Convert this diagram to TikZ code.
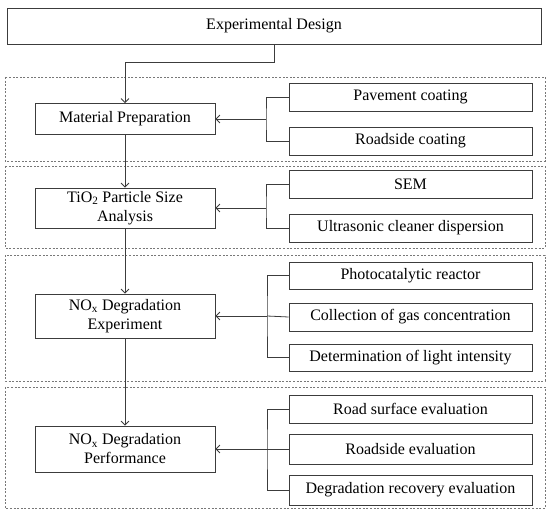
\documentclass[tikz,border=0pt]{standalone}
\usepackage{fontspec}
\setmainfont{Liberation Serif}
\usepackage{tikz}
\usetikzlibrary{arrows,arrows.meta,positioning,calc}
\definecolor{framegray}{RGB}{120,120,120}
\definecolor{linegray}{RGB}{60,60,60}

\begin{document}
\begin{tikzpicture}[x=1pt, y=-1pt,
    font=\fontsize{16}{19}\selectfont,
    >={Straight Barb[length=4pt,width=8pt]},
    mainbox/.style={draw=linegray, line width=0.8pt, fill=white, minimum width=180pt, align=center, inner sep=2pt},
    subbox/.style={draw=linegray, line width=0.8pt, fill=white, minimum width=243pt, minimum height=28pt, inner sep=2pt},
    frame/.style={draw=framegray, line width=0.7pt, dash pattern=on 2pt off 1.6pt},
    link/.style={draw=linegray, line width=0.8pt}]
    \useasboundingbox (0,0) rectangle (550,513);

    % Dashed stage frames
    \draw[frame] (5,77) rectangle (545,161);
    \draw[frame] (5,166) rectangle (545,248);
    \draw[frame] (5,255) rectangle (545,381);
    \draw[frame] (5,387) rectangle (545,508);

    % Top box
    \node[mainbox, minimum width=534pt, minimum height=36pt] (design) at (274,26) {Experimental Design};

    % Main stages (left column)
    \node[mainbox, minimum height=31pt] (prep) at (125,119) {Material Preparation};
    \node[mainbox, minimum height=40pt] (tio) at (125,208) {TiO\textsubscript{2} Particle Size\\Analysis};
    \node[mainbox, minimum height=44pt] (noxexp) at (125,316) {NO\textsubscript{x} Degradation\\Experiment};
    \node[mainbox, minimum height=46pt] (noxperf) at (125,449) {NO\textsubscript{x} Degradation\\Performance};

    % Sub items (right column)
    \node[subbox] (pave) at (410.5,97) {Pavement coating};
    \node[subbox] (rcoat) at (410.5,141) {Roadside coating};
    \node[subbox] (sem) at (410.5,184) {SEM};
    \node[subbox] (ultra) at (410.5,228) {Ultrasonic cleaner dispersion};
    \node[subbox, minimum height=27pt] (photo) at (410.5,275.5) {Photocatalytic reactor};
    \node[subbox] (gas) at (410.5,317) {Collection of gas concentration};
    \node[subbox, minimum height=27pt] (light) at (410.5,357.5) {Determination of light intensity};
    \node[subbox] (surf) at (410.5,409) {Road surface evaluation};
    \node[subbox, minimum height=30pt] (rside) at (410.5,449) {Roadside evaluation};
    \node[subbox, minimum height=30pt] (recov) at (410.5,490) {Degradation recovery evaluation};

    % Main flow
    \draw[link, ->] (design.south) -- ++(0,18) -| (prep.north);
    \draw[link, ->] (prep.south) -- (tio.north);
    \draw[link, ->] (tio.south) -- (noxexp.north);
    \draw[link, ->] (noxexp.south) -- (noxperf.north);

    % Brackets into each stage
    \coordinate (b1) at (266,119);
    \draw[link] (pave.west) -| (b1) |- (rcoat.west);
    \draw[link, ->] (b1) -- (prep.east);

    \coordinate (b2) at (266,208);
    \draw[link] (sem.west) -| (b2) |- (ultra.west);
    \draw[link, ->] (b2) -- (tio.east);

    \coordinate (b3) at (267,316);
    \draw[link] (photo.west) -| (b3) |- (light.west);
    \draw[link] (gas.west) -- (b3);
    \draw[link, ->] (b3) -- (noxexp.east);

    \coordinate (b4) at (267,449);
    \draw[link] (surf.west) -| (b4) |- (recov.west);
    \draw[link] (rside.west) -- (b4);
    \draw[link, ->] (b4) -- (noxperf.east);
\end{tikzpicture}
\end{document}
